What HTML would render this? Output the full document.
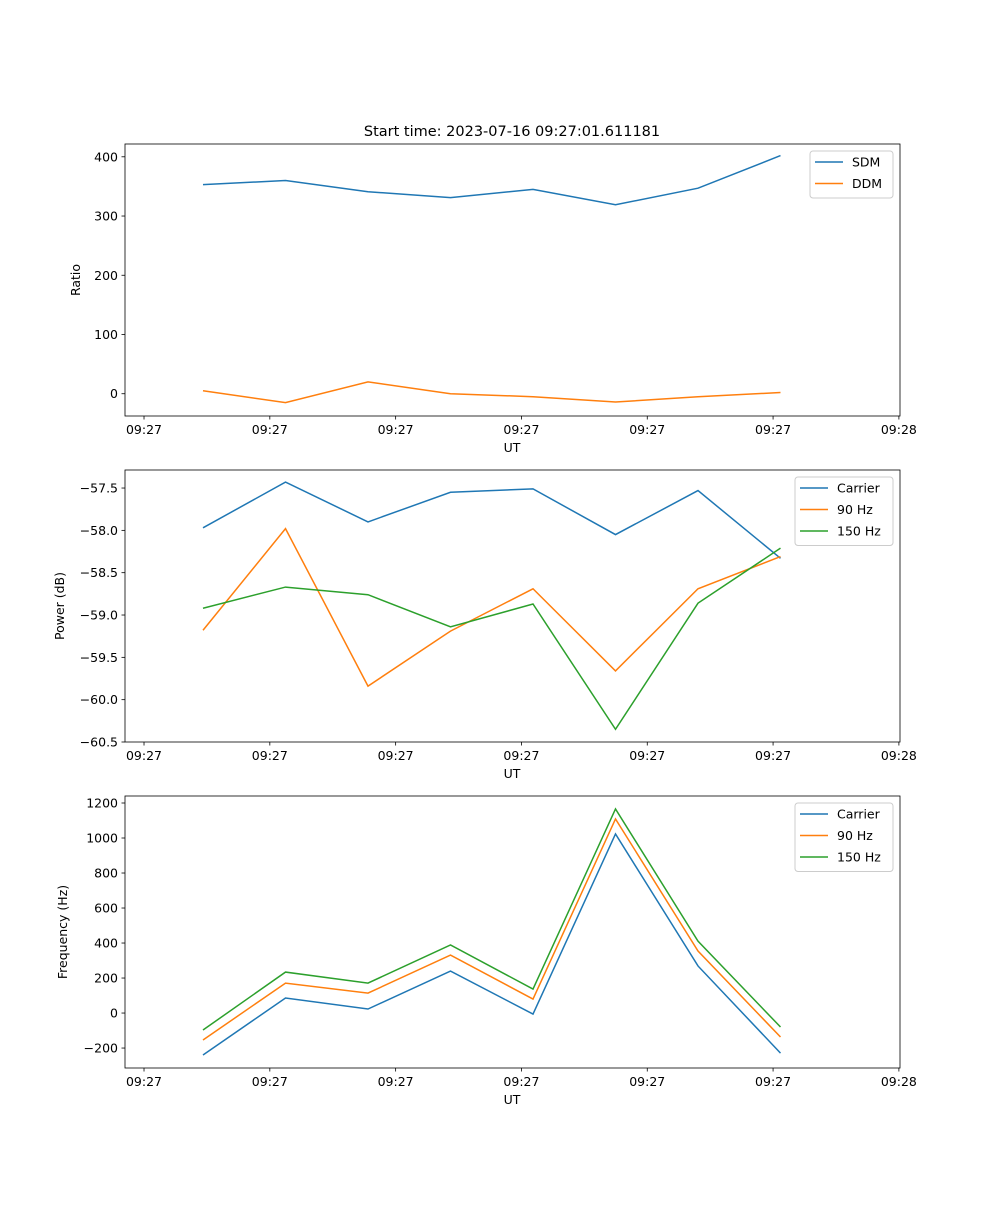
<!DOCTYPE html>
<html><head><meta charset="utf-8">
<style>
body{margin:0;background:#fff;}
svg text{font-family:"DejaVu Sans","Liberation Sans",sans-serif;font-size:12.5px;fill:#000;}
</style></head>
<body>
<svg id="fig" width="1000" height="1200" xmlns="http://www.w3.org/2000/svg"></svg>
<script>
const categories = ["t0","t1","t2","t3","t4","t5","t6","t7"];
const xTickLabels = ["09:27","09:27","09:27","09:27","09:27","09:27","09:28"];
const sdm = [353,360,341,331,345,319,347,402];
const ddm = [5,-15,20,0,-5,-14,-5,2];
const ratioTicks = [0,100,200,300,400];
const powerCarrier = [-57.97,-57.43,-57.90,-57.55,-57.51,-58.05,-57.53,-58.33];
const power90 = [-59.18,-57.98,-59.84,-59.19,-58.69,-59.66,-58.69,-58.31];
const power150 = [-58.92,-58.67,-58.76,-59.14,-58.87,-60.35,-58.86,-58.21];
const powerTicks = [-57.5,-58.0,-58.5,-59.0,-59.5,-60.0,-60.5];
const freqCarrier = [-240,86,23,240,-6,1023,269,-229];
const freq90 = [-154,171,114,331,80,1109,354,-137];
const freq150 = [-97,234,171,389,137,1166,411,-80];
const freqTicks = [-200,0,200,400,600,800,1000,1200];

const NS="http://www.w3.org/2000/svg";
const svg=document.getElementById('fig');
function mk(tag,attrs,parent){const e=document.createElementNS(NS,tag);for(const k in attrs)e.setAttribute(k,attrs[k]);(parent||svg).appendChild(e);return e;}
const C1="#1f77b4",C2="#ff7f0e",C3="#2ca02c";
const L=125,R=900;
function xs(i){return 203+i*82.5;}
const xTickPos=[-0.715,0.81,2.335,3.86,5.385,6.91,8.435];

function panel(name,top,bot,yMin,yMax,yTicks,fmt,ylabel,series,legend){
  const g=mk('g',{});
  
  
  const ys=v=>bot-(v-yMin)/(yMax-yMin)*(bot-top);
  series.forEach(s=>{
    const p=mk('polyline',{points:s.vals.map((v,i)=>xs(i)+','+ys(v)).join(' '),fill:'none',stroke:s.color,'stroke-width':1.5},g);
    
    
  });
  mk('rect',{x:L,y:top,width:R-L,height:bot-top,fill:'none',stroke:'#000','stroke-width':0.8},g);
  xTickPos.forEach((t,i)=>{
    const x=xs(t);
    mk('line',{x1:x,x2:x,y1:bot,y2:bot+3.5,stroke:'#000','stroke-width':0.8},g);
    const tx=mk('text',{x:x,y:bot+18,'text-anchor':'middle'},g);tx.textContent=xTickLabels[i];
    
    
  });
  const xl=mk('text',{x:512,y:bot+36,'text-anchor':'middle'},g);xl.textContent='UT';
  
  
  yTicks.forEach(t=>{
    const y=ys(t);
    mk('line',{x1:L-3.5,x2:L,y1:y,y2:y,stroke:'#000','stroke-width':0.8},g);
    const tx=mk('text',{x:L-7,y:y+4.5,'text-anchor':'end'},g);tx.textContent=fmt(t);
    
    
  });
  const cy=(top+bot)/2;
  const yl=mk('text',{x:0,y:0,'text-anchor':'middle',transform:`translate(${legend.ylx},${cy}) rotate(-90)`},g);yl.textContent=ylabel;
  
  
  const lg=mk('g',{},g);
  
  
  mk('rect',{x:legend.x,y:top+7,width:R-7-legend.x,height:series.length*21.5+4,rx:3,fill:'#fff','fill-opacity':0.8,stroke:'#ccc'},lg);
  series.forEach((s,i)=>{
    const y=top+18+i*21.5;
    mk('line',{x1:legend.x+5,x2:legend.x+33,y1:y,y2:y,stroke:s.color,'stroke-width':1.5},lg);
    const t=mk('text',{x:legend.x+42,y:y+4.5},lg);t.textContent=s.label;
    
    
  });
}
const title=mk('text',{x:512,y:136,'text-anchor':'middle',style:'font-size:14.5px'});
title.textContent='Start time: 2023-07-16 09:27:01.611181';



panel('ratio-panel',144,416,-37.6,421.6,ratioTicks,v=>v.toString().replace('-','\u2212'),'Ratio',
 [{name:'sdm-line',vals:sdm,color:C1,label:'SDM'},{name:'ddm-line',vals:ddm,color:C2,label:'DDM'}],{x:810,ylx:80});
panel('power-panel',470,742,-60.5,-57.287,powerTicks,v=>v.toFixed(1).replace('-','\u2212'),'Power (dB)',
 [{name:'power-carrier-line',vals:powerCarrier,color:C1,label:'Carrier'},{name:'power-90hz-line',vals:power90,color:C2,label:'90 Hz'},{name:'power-150hz-line',vals:power150,color:C3,label:'150 Hz'}],{x:795,ylx:64});
panel('frequency-panel',796,1068,-314,1240,freqTicks,v=>v.toString().replace('-','\u2212'),'Frequency (Hz)',
 [{name:'freq-carrier-line',vals:freqCarrier,color:C1,label:'Carrier'},{name:'freq-90hz-line',vals:freq90,color:C2,label:'90 Hz'},{name:'freq-150hz-line',vals:freq150,color:C3,label:'150 Hz'}],{x:795,ylx:67});
</script>
</body></html>
